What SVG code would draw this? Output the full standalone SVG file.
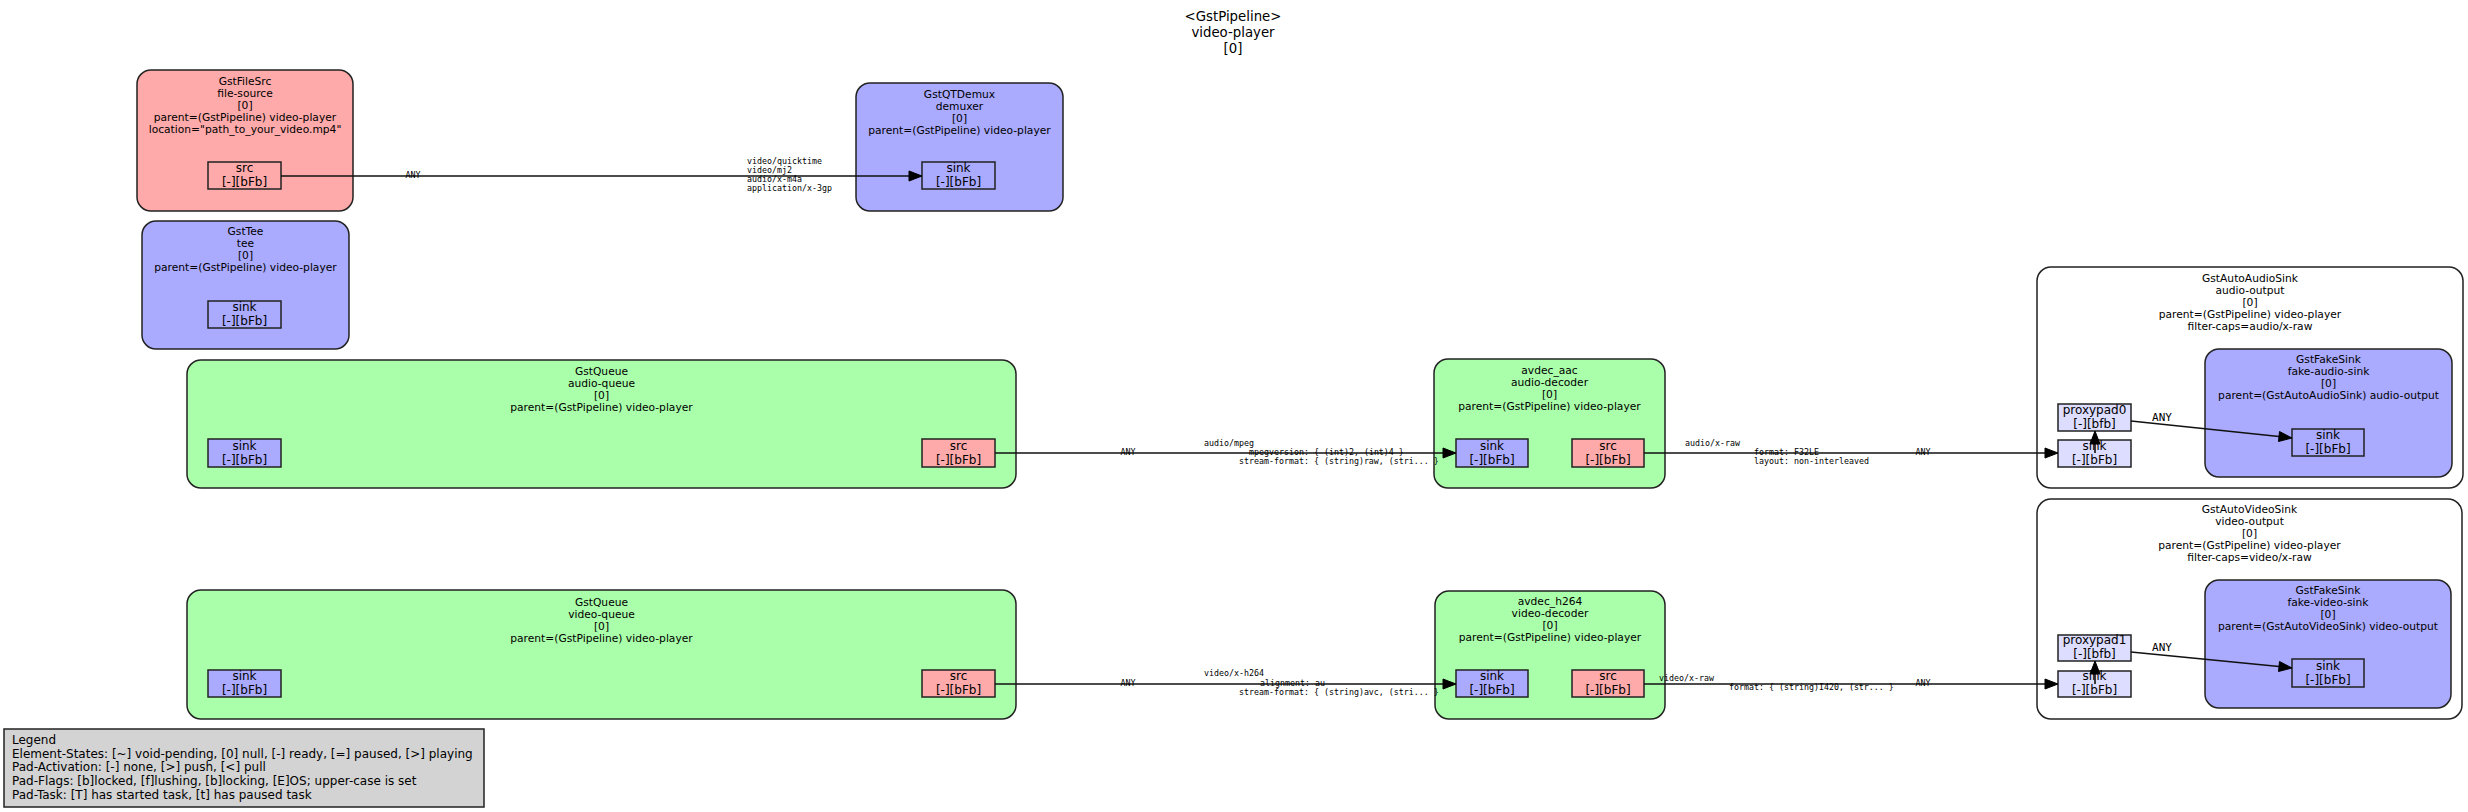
<svg xmlns="http://www.w3.org/2000/svg" width="2468" height="812" viewBox="0 0 2468 812">
<style>
text{font-family:"DejaVu Sans","Liberation Sans",sans-serif;fill:#000;}
.t{font-size:13.3px;text-anchor:middle;dominant-baseline:central;}
.el{font-size:10.7px;text-anchor:middle;dominant-baseline:central;}
.pl{font-size:12px;text-anchor:middle;dominant-baseline:central;}
.cap{font-family:"DejaVu Sans Mono","Liberation Mono",monospace;font-size:8.3px;dominant-baseline:central;}
.any{font-family:"DejaVu Sans Mono","Liberation Mono",monospace;font-size:11px;text-anchor:middle;dominant-baseline:central;}
.lg{font-size:12px;dominant-baseline:central;}
.node{stroke:#222;stroke-width:1.5;}
.pad{stroke:#222;stroke-width:1.5;}
.red{fill:#ffaaaa;}
.blue{fill:#aaaaff;}
.green{fill:#aaffaa;}
.ghost{fill:#ddddff;}
.bin{fill:#ffffff;}
.edge{stroke:#111;stroke-width:1.6;fill:none;}
.ah{fill:#000;stroke:#000;stroke-width:1;}
</style>

<g id="title">
<text class="t" x="1233" y="16">&lt;GstPipeline&gt;</text>
<text class="t" x="1233" y="32">video-player</text>
<text class="t" x="1233" y="48">[0]</text>
</g>

<g id="file-source">
<rect class="node red" x="137" y="70" width="216" height="141" rx="14"/>
<text class="el" x="245" y="81">GstFileSrc</text>
<text class="el" x="245" y="93">file-source</text>
<text class="el" x="245" y="105">[0]</text>
<text class="el" x="245" y="117">parent=(GstPipeline) video-player</text>
<text class="el" x="245" y="129">location="path_to_your_video.mp4"</text>
<g id="file-source_src">
<rect class="pad red" x="208" y="162" width="73" height="27"/>
<text class="pl" x="244.5" y="168">src</text>
<text class="pl" x="244.5" y="182">[-][bFb]</text>
</g>
</g>

<g id="demuxer">
<rect class="node blue" x="856" y="83" width="207" height="128" rx="14"/>
<text class="el" x="959.5" y="94">GstQTDemux</text>
<text class="el" x="959.5" y="106">demuxer</text>
<text class="el" x="959.5" y="118">[0]</text>
<text class="el" x="959.5" y="130">parent=(GstPipeline) video-player</text>
<g id="demuxer_sink">
<rect class="pad blue" x="922" y="162" width="73" height="27"/>
<text class="pl" x="958.5" y="168">sink</text>
<text class="pl" x="958.5" y="182">[-][bFb]</text>
</g>
</g>

<g id="tee">
<rect class="node blue" x="142" y="221" width="207" height="128" rx="14"/>
<text class="el" x="245.5" y="231">GstTee</text>
<text class="el" x="245.5" y="243">tee</text>
<text class="el" x="245.5" y="255">[0]</text>
<text class="el" x="245.5" y="267">parent=(GstPipeline) video-player</text>
<g id="tee_sink">
<rect class="pad blue" x="208" y="301" width="73" height="27"/>
<text class="pl" x="244.5" y="307">sink</text>
<text class="pl" x="244.5" y="321">[-][bFb]</text>
</g>
</g>

<g id="audio-queue">
<rect class="node green" x="187" y="360" width="829" height="128" rx="14"/>
<text class="el" x="601.5" y="371">GstQueue</text>
<text class="el" x="601.5" y="383">audio-queue</text>
<text class="el" x="601.5" y="395">[0]</text>
<text class="el" x="601.5" y="407">parent=(GstPipeline) video-player</text>
<g id="audio-queue_sink">
<rect class="pad blue" x="208" y="439" width="73" height="28"/>
<text class="pl" x="244.5" y="446">sink</text>
<text class="pl" x="244.5" y="460">[-][bFb]</text>
</g>
<g id="audio-queue_src">
<rect class="pad red" x="922" y="439" width="73" height="28"/>
<text class="pl" x="958.5" y="446">src</text>
<text class="pl" x="958.5" y="460">[-][bFb]</text>
</g>
</g>

<g id="video-queue">
<rect class="node green" x="187" y="590" width="829" height="129" rx="14"/>
<text class="el" x="601.5" y="602">GstQueue</text>
<text class="el" x="601.5" y="614">video-queue</text>
<text class="el" x="601.5" y="626">[0]</text>
<text class="el" x="601.5" y="638">parent=(GstPipeline) video-player</text>
<g id="video-queue_sink">
<rect class="pad blue" x="208" y="670" width="73" height="27"/>
<text class="pl" x="244.5" y="676">sink</text>
<text class="pl" x="244.5" y="690">[-][bFb]</text>
</g>
<g id="video-queue_src">
<rect class="pad red" x="922" y="670" width="73" height="27"/>
<text class="pl" x="958.5" y="676">src</text>
<text class="pl" x="958.5" y="690">[-][bFb]</text>
</g>
</g>

<g id="audio-decoder">
<rect class="node green" x="1434" y="359" width="231" height="129" rx="14"/>
<text class="el" x="1549.5" y="370">avdec_aac</text>
<text class="el" x="1549.5" y="382">audio-decoder</text>
<text class="el" x="1549.5" y="394">[0]</text>
<text class="el" x="1549.5" y="406">parent=(GstPipeline) video-player</text>
<g id="audio-decoder_sink">
<rect class="pad blue" x="1456" y="439" width="72" height="28"/>
<text class="pl" x="1492" y="446">sink</text>
<text class="pl" x="1492" y="460">[-][bFb]</text>
</g>
<g id="audio-decoder_src">
<rect class="pad red" x="1572" y="439" width="72" height="28"/>
<text class="pl" x="1608" y="446">src</text>
<text class="pl" x="1608" y="460">[-][bFb]</text>
</g>
</g>

<g id="video-decoder">
<rect class="node green" x="1435" y="591" width="230" height="128" rx="14"/>
<text class="el" x="1550" y="601">avdec_h264</text>
<text class="el" x="1550" y="613">video-decoder</text>
<text class="el" x="1550" y="625">[0]</text>
<text class="el" x="1550" y="637">parent=(GstPipeline) video-player</text>
<g id="video-decoder_sink">
<rect class="pad blue" x="1456" y="670" width="72" height="27"/>
<text class="pl" x="1492" y="676">sink</text>
<text class="pl" x="1492" y="690">[-][bFb]</text>
</g>
<g id="video-decoder_src">
<rect class="pad red" x="1572" y="670" width="72" height="27"/>
<text class="pl" x="1608" y="676">src</text>
<text class="pl" x="1608" y="690">[-][bFb]</text>
</g>
</g>

<g id="audio-output">
<rect class="node bin" x="2037" y="267" width="426" height="221" rx="14"/>
<text class="el" x="2250" y="278">GstAutoAudioSink</text>
<text class="el" x="2250" y="290">audio-output</text>
<text class="el" x="2250" y="302">[0]</text>
<text class="el" x="2250" y="314">parent=(GstPipeline) video-player</text>
<text class="el" x="2250" y="326">filter-caps=audio/x-raw</text>
<g id="audio-output_sink">
<rect class="pad ghost" x="2058" y="440" width="73" height="27"/>
<text class="pl" x="2094.5" y="446">sink</text>
<text class="pl" x="2094.5" y="460">[-][bFb]</text>
</g>
<g id="audio-output_proxypad0">
<rect class="pad ghost" x="2058" y="404" width="73" height="27"/>
<text class="pl" x="2094.5" y="410">proxypad0</text>
<text class="pl" x="2094.5" y="424">[-][bfb]</text>
</g>
<g id="fake-audio-sink">
<rect class="node blue" x="2205" y="349" width="247" height="128" rx="14"/>
<text class="el" x="2328.5" y="359">GstFakeSink</text>
<text class="el" x="2328.5" y="371">fake-audio-sink</text>
<text class="el" x="2328.5" y="383">[0]</text>
<text class="el" x="2328.5" y="395">parent=(GstAutoAudioSink) audio-output</text>
<g id="fake-audio-sink_sink">
<rect class="pad blue" x="2292" y="429" width="72" height="27"/>
<text class="pl" x="2328" y="435">sink</text>
<text class="pl" x="2328" y="449">[-][bFb]</text>
</g>
</g>
</g>

<g id="video-output">
<rect class="node bin" x="2037" y="499" width="425" height="220" rx="14"/>
<text class="el" x="2249.5" y="509">GstAutoVideoSink</text>
<text class="el" x="2249.5" y="521">video-output</text>
<text class="el" x="2249.5" y="533">[0]</text>
<text class="el" x="2249.5" y="545">parent=(GstPipeline) video-player</text>
<text class="el" x="2249.5" y="557">filter-caps=video/x-raw</text>
<g id="video-output_sink">
<rect class="pad ghost" x="2058" y="671" width="73" height="26"/>
<text class="pl" x="2094.5" y="676">sink</text>
<text class="pl" x="2094.5" y="690">[-][bFb]</text>
</g>
<g id="video-output_proxypad1">
<rect class="pad ghost" x="2058" y="635" width="73" height="26"/>
<text class="pl" x="2094.5" y="640">proxypad1</text>
<text class="pl" x="2094.5" y="654">[-][bfb]</text>
</g>
<g id="fake-video-sink">
<rect class="node blue" x="2205" y="580" width="246" height="128" rx="14"/>
<text class="el" x="2328" y="590">GstFakeSink</text>
<text class="el" x="2328" y="602">fake-video-sink</text>
<text class="el" x="2328" y="614">[0]</text>
<text class="el" x="2328" y="626">parent=(GstAutoVideoSink) video-output</text>
<g id="fake-video-sink_sink">
<rect class="pad blue" x="2292" y="659" width="72" height="28"/>
<text class="pl" x="2328" y="666">sink</text>
<text class="pl" x="2328" y="680">[-][bFb]</text>
</g>
</g>
</g>

<g id="legend">
<rect x="4" y="729" width="480" height="78" fill="#d3d3d3" stroke="#222" stroke-width="1.5"/>
<text class="lg" x="12" y="740">Legend</text>
<text class="lg" x="12" y="754">Element-States: [~] void-pending, [0] null, [-] ready, [=] paused, [&gt;] playing</text>
<text class="lg" x="12" y="767">Pad-Activation: [-] none, [&gt;] push, [&lt;] pull</text>
<text class="lg" x="12" y="781">Pad-Flags: [b]locked, [f]lushing, [b]locking, [E]OS; upper-case is set</text>
<text class="lg" x="12" y="795">Pad-Task: [T] has started task, [t] has paused task</text>
</g>

<g id="connectors">
<g id="e-filesrc-demux">
<path class="edge" d="M281,176 L909,176"/>
<polygon class="ah" points="922,176 909,171 909,181"/>
<text class="cap" x="413" y="175" text-anchor="middle">ANY</text>
<text class="cap" x="747" y="161">video/quicktime</text>
<text class="cap" x="747" y="170">video/mj2</text>
<text class="cap" x="747" y="179">audio/x-m4a</text>
<text class="cap" x="747" y="188">application/x-3gp</text>
</g>
<g id="e-aqueue-adec">
<path class="edge" d="M995,453 L1443,453"/>
<polygon class="ah" points="1456,453 1443,448 1443,458"/>
<text class="cap" x="1128" y="452" text-anchor="middle">ANY</text>
<text class="cap" x="1204" y="443">audio/mpeg</text>
<text class="cap" x="1249" y="452">mpegversion: { (int)2, (int)4 }</text>
<text class="cap" x="1239" y="461">stream-format: { (string)raw, (stri... }</text>
</g>
<g id="e-vqueue-vdec">
<path class="edge" d="M995,684 L1443,684"/>
<polygon class="ah" points="1456,684 1443,679 1443,689"/>
<text class="cap" x="1128" y="683" text-anchor="middle">ANY</text>
<text class="cap" x="1204" y="673">video/x-h264</text>
<text class="cap" x="1260" y="683">alignment: au</text>
<text class="cap" x="1239" y="692">stream-format: { (string)avc, (stri... }</text>
</g>
<g id="e-adec-aout">
<path class="edge" d="M1644,453 L2045,453"/>
<polygon class="ah" points="2058,453 2045,448 2045,458"/>
<text class="cap" x="1685" y="443">audio/x-raw</text>
<text class="cap" x="1754" y="452">format: F32LE</text>
<text class="cap" x="1754" y="461">layout: non-interleaved</text>
<text class="cap" x="1923" y="452" text-anchor="middle">ANY</text>
</g>
<g id="e-vdec-vout">
<path class="edge" d="M1644,684 L2045,684"/>
<polygon class="ah" points="2058,684 2045,679 2045,689"/>
<text class="cap" x="1659" y="678">video/x-raw</text>
<text class="cap" x="1729" y="687">format: { (string)I420, (str... }</text>
<text class="cap" x="1923" y="683" text-anchor="middle">ANY</text>
</g>
<g id="e-asink-proxy0">
<path class="edge" d="M2095,453 L2095,444"/>
<polygon class="ah" points="2095,431 2090,444 2100,444"/>
</g>
<g id="e-proxy0-fakeaudio">
<path class="edge" d="M2131,421 L2279,436.5"/>
<polygon class="ah" points="2292,438 2279.5,431.5 2278.5,441.5"/>
<text class="any" x="2162" y="417">ANY</text>
</g>
<g id="e-vsink-proxy1">
<path class="edge" d="M2095,684 L2095,674"/>
<polygon class="ah" points="2095,661 2090,674 2100,674"/>
</g>
<g id="e-proxy1-fakevideo">
<path class="edge" d="M2131,652 L2279,666.5"/>
<polygon class="ah" points="2292,668 2279.5,661.5 2278.5,671.5"/>
<text class="any" x="2162" y="647">ANY</text>
</g>
</g>
</svg>
